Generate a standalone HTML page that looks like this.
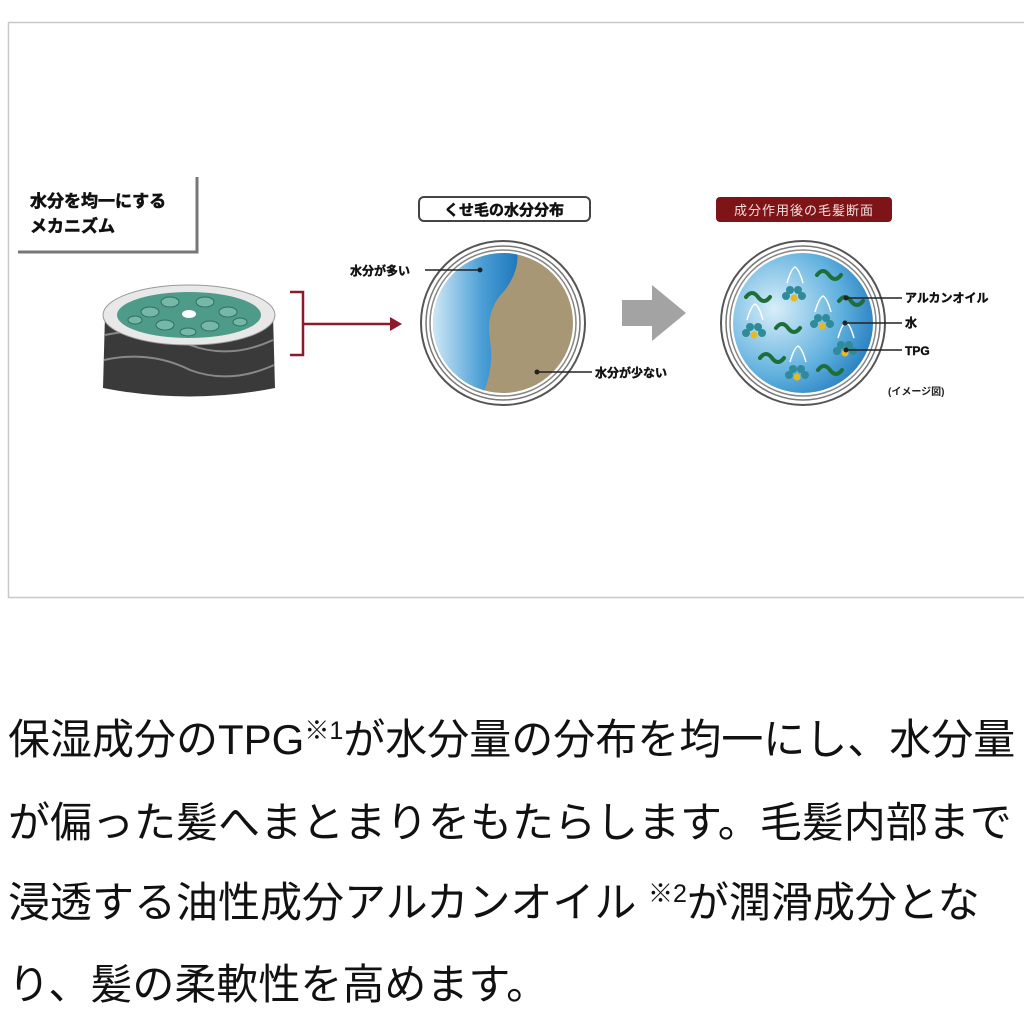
<!DOCTYPE html>
<html><head><meta charset="utf-8">
<style>
html,body{margin:0;padding:0;background:#fff;width:1024px;height:1024px;overflow:hidden;position:relative}
.t{position:absolute;left:8px;font-family:"Liberation Sans","Noto Sans CJK JP",sans-serif;font-size:42px;color:#111;white-space:nowrap;line-height:1}
sup{font-size:25px;vertical-align:15px;line-height:0}
</style></head><body>
<svg width="1024" height="640" style="position:absolute;left:0;top:0" xmlns="http://www.w3.org/2000/svg" font-family="Liberation Sans, Noto Sans CJK JP, sans-serif">
<defs>
<linearGradient id="bl" x1="0" x2="1"><stop offset="0" stop-color="#d6ecf8"/><stop offset="0.6" stop-color="#4a9ed6"/><stop offset="1" stop-color="#1f78bd"/></linearGradient>
<radialGradient id="rb" cx="0.3" cy="0.4" r="0.8"><stop offset="0" stop-color="#d8eef9"/><stop offset="0.6" stop-color="#5fb0de"/><stop offset="1" stop-color="#1c74ba"/></radialGradient>
<clipPath id="c1"><circle cx="503" cy="323" r="70"/></clipPath>
</defs>
<rect x="8.5" y="22.5" width="1020" height="575" fill="#fff" stroke="#c8c8c8" stroke-width="1.5"/>
<polyline points="18,252 197,252 197,177" fill="none" stroke="#777" stroke-width="3"/>
<text x="30" y="207" font-size="17" font-weight="bold" fill="#111" stroke="#111" stroke-width="0.6">水分を均一にする</text>
<text x="30" y="232" font-size="17" font-weight="bold" fill="#111" stroke="#111" stroke-width="0.6">メカニズム</text>
<path d="M105,315 L103,388 Q190,405 275,388 L273,315 Z" fill="#3a3a3a"/>
<path d="M105,335 Q150,325 190,345 Q230,360 273,340 M104,360 Q150,350 190,370 Q230,385 274,365" stroke="#888" stroke-width="2" fill="none"/>
<ellipse cx="189" cy="315" rx="86" ry="30" fill="#e8e8e8" stroke="#999"/>
<ellipse cx="189" cy="315" rx="72" ry="23" fill="#4e9b89"/>
<g fill="#76b8a8" stroke="#2f6e60" stroke-width="1">
<ellipse cx="150" cy="312" rx="9" ry="5"/><ellipse cx="170" cy="302" rx="9" ry="5"/><ellipse cx="205" cy="302" rx="9" ry="5"/><ellipse cx="228" cy="312" rx="9" ry="5"/><ellipse cx="165" cy="325" rx="9" ry="5"/><ellipse cx="210" cy="326" rx="9" ry="5"/><ellipse cx="240" cy="322" rx="7" ry="4"/><ellipse cx="135" cy="320" rx="7" ry="4"/><ellipse cx="188" cy="332" rx="8" ry="4"/></g>
<ellipse cx="189" cy="314" rx="7" ry="4" fill="#fff"/>
<polyline points="290,292 303,292 303,355 290,355" fill="none" stroke="#8b1a2b" stroke-width="2.5"/>
<line x1="303" y1="324" x2="392" y2="324" stroke="#8b1a2b" stroke-width="2.5"/>
<polygon points="390,317 402,324 390,331" fill="#8b1a2b"/>
<rect x="419" y="197" width="171" height="24" rx="5" fill="#fff" stroke="#444" stroke-width="2"/>
<text x="504" y="215" font-size="15" font-weight="bold" text-anchor="middle" fill="#111" stroke="#111" stroke-width="0.5">くせ毛の水分分布</text>
<circle cx="503" cy="323" r="82" fill="#fff" stroke="#555" stroke-width="2"/>
<circle cx="503" cy="323" r="77" fill="none" stroke="#777" stroke-width="1.5"/>
<circle cx="503" cy="323" r="73" fill="none" stroke="#888" stroke-width="1.5"/>
<g clip-path="url(#c1)">
<rect x="430" y="250" width="150" height="150" fill="#a89774"/>
<path d="M430,250 L517,250 Q520,270 505,290 Q485,310 490,340 Q495,370 480,400 L430,400 Z" fill="url(#bl)"/>
</g>
<line x1="425" y1="270" x2="480" y2="270" stroke="#222" stroke-width="1.5"/><circle cx="480" cy="270" r="2.5" fill="#222"/>
<text x="350" y="275" font-size="12" font-weight="bold" fill="#111" stroke="#111" stroke-width="0.4">水分が多い</text>
<line x1="537" y1="372" x2="592" y2="372" stroke="#222" stroke-width="1.5"/><circle cx="537" cy="372" r="2.5" fill="#222"/>
<text x="595" y="377" font-size="12" font-weight="bold" fill="#111" stroke="#111" stroke-width="0.4">水分が少ない</text>
<polygon points="622,300 652,300 652,285 686,313 652,341 652,326 622,326" fill="#a3a3a3"/>
<rect x="716" y="197" width="176" height="25" rx="4" fill="#7e1418"/>
<text x="804" y="215" font-size="13" text-anchor="middle" fill="#f3dede" letter-spacing="1">成分作用後の毛髪断面</text>
<circle cx="803" cy="323" r="82" fill="#fff" stroke="#555" stroke-width="2"/>
<circle cx="803" cy="323" r="77" fill="none" stroke="#777" stroke-width="1.5"/>
<circle cx="803" cy="323" r="73" fill="none" stroke="#888" stroke-width="1.5"/>
<circle cx="803" cy="323" r="70" fill="url(#rb)"/>
<g fill="none" stroke="#1e6e3a" stroke-width="4" stroke-linecap="round">
<path d="M746,297 q6,-8 12,0 t12,0"/><path d="M817,275 q6,-8 12,0 t12,0"/><path d="M776,328 q6,-8 12,0 t12,0"/><path d="M839,301 q6,-8 12,0 t12,0"/><path d="M760,358 q6,-8 12,0 t12,0"/><path d="M818,370 q6,-8 12,0 t12,0"/>
</g>
<g>
<g fill="none" stroke="#fff" stroke-width="1.5"><path d="M787,283 q4,-14 8,-16 q4,2 8,16"/><path d="M815,312 q4,-14 8,-16 q4,2 8,16"/><path d="M747,320 q4,-14 8,-16 q4,2 8,16"/><path d="M838,338 q4,-14 8,-16 q4,2 8,16"/><path d="M790,362 q4,-14 8,-16 q4,2 8,16"/></g>
<g fill="#2f8b9a"><circle cx="790" cy="290" r="4"/><circle cx="798" cy="290" r="4"/><circle cx="786" cy="296" r="4"/><circle cx="802" cy="296" r="4"/>
<circle cx="818" cy="318" r="4"/><circle cx="826" cy="318" r="4"/><circle cx="814" cy="324" r="4"/><circle cx="830" cy="324" r="4"/>
<circle cx="750" cy="327" r="4"/><circle cx="758" cy="327" r="4"/><circle cx="746" cy="333" r="4"/><circle cx="762" cy="333" r="4"/>
<circle cx="841" cy="345" r="4"/><circle cx="849" cy="345" r="4"/><circle cx="837" cy="351" r="4"/><circle cx="853" cy="351" r="4"/>
<circle cx="793" cy="369" r="4"/><circle cx="801" cy="369" r="4"/><circle cx="789" cy="375" r="4"/><circle cx="805" cy="375" r="4"/></g>
<g fill="#e8b820"><circle cx="794" cy="298" r="3.5"/><circle cx="822" cy="326" r="3.5"/><circle cx="754" cy="335" r="3.5"/><circle cx="845" cy="353" r="3.5"/><circle cx="797" cy="377" r="3.5"/></g>
</g>
<g stroke="#222" stroke-width="1.5"><line x1="846" y1="298" x2="902" y2="298"/><line x1="845" y1="323" x2="902" y2="323"/><line x1="846" y1="350" x2="902" y2="350"/></g>
<g fill="#222"><circle cx="846" cy="298" r="2.5"/><circle cx="845" cy="323" r="2.5"/><circle cx="846" cy="350" r="2.5"/></g>
<g font-size="12" font-weight="bold" fill="#111" stroke="#111" stroke-width="0.4"><text x="905" y="302">アルカンオイル</text><text x="905" y="327">水</text><text x="905" y="355">TPG</text></g>
<text x="888" y="395" font-size="10" font-weight="bold" fill="#222">(イメージ図)</text>
</svg>
<div class="t" style="top:719px">保湿成分のTPG<sup>※1</sup>が水分量の分布を均一にし、水分量</div>
<div class="t" style="top:802px">が偏った髪へまとまりをもたらします。毛髪内部まで</div>
<div class="t" style="top:882px">浸透する油性成分アルカンオイル <sup>※2</sup>が潤滑成分とな</div>
<div class="t" style="top:964px">り、髪の柔軟性を高めます。</div>
</body></html>
